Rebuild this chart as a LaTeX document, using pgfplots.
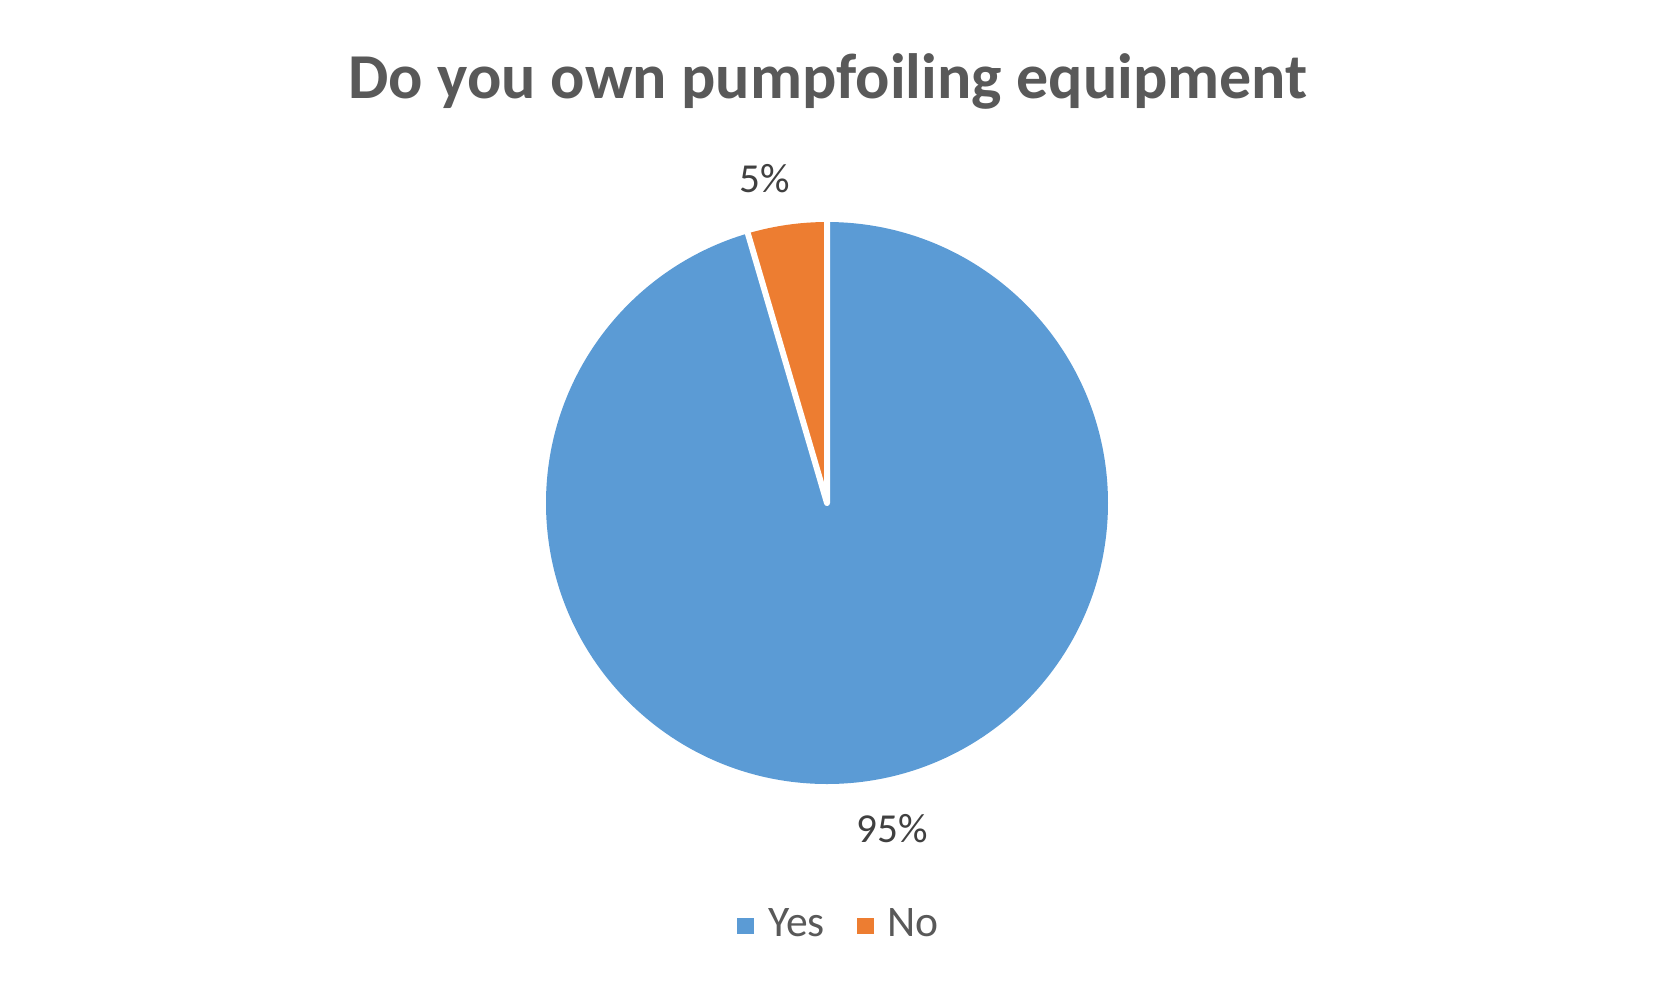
\documentclass[border=0pt]{standalone}
\usepackage{pgfplots}
\pgfplotsset{compat=1.18}
\usepackage{pgfplotstable}
\usetikzlibrary{calc}
\usepackage{fontspec}
\setmainfont{Carlito}

\definecolor{yesblue}{HTML}{5B9BD5}
\definecolor{noorange}{HTML}{ED7D31}
\definecolor{titlegray}{HTML}{595959}
\definecolor{labelgray}{HTML}{404040}

% answers (count of respondents)
\pgfplotstableread{
answer count
Yes 21
No 1
}\answers

\begin{document}
\begin{tikzpicture}
\pgfplotstablegetelem{0}{count}\of\answers \let\nyes\pgfplotsretval
\pgfplotstablegetelem{1}{count}\of\answers \let\nno\pgfplotsretval
\pgfmathsetmacro\total{\nyes+\nno}
\pgfmathsetmacro\ayes{360*\nyes/\total}
\pgfmathsetmacro\ano{360*\nno/\total}
\begin{axis}[
  width=413.5pt, height=247.5pt, scale only axis,
  xmin=0, xmax=1654, ymin=0, ymax=990,
  hide axis, clip=false,
  legend columns=2,
  legend image code/.code={\fill[#1] (0pt,-1.9pt) rectangle (3.8pt,1.9pt);
    \path (7.3pt,0pt);},
  legend style={at={(axis cs:838,64)}, anchor=center, draw=none, fill=none,
    font=\fontsize{10.9}{12}\selectfont, text=titlegray,
    nodes={inner sep=0pt},
    /tikz/every even column/.append style={column sep=8pt}},
]
\path (rel axis cs:0,0) (rel axis cs:1,1);
\addlegendimage{yesblue}
\addlegendentry{Yes}
\addlegendimage{noorange}
\addlegendentry{No}

% slices, clockwise from 12 o'clock
\fill[yesblue] (axis cs:827,487) -- ++(90:70.25pt)
  arc[start angle=90, delta angle=-\ayes, radius=70.25pt] -- cycle;
\fill[noorange] (axis cs:827,487) -- ++(90+\ano:70.25pt)
  arc[start angle=90+\ano, delta angle=-\ano, radius=70.25pt] -- cycle;
\draw[white, line width=1.5pt, line join=round, line cap=round]
  ($(axis cs:827,487)+(90:70.25pt)$) -- (axis cs:827,487) -- ++(90+\ano:70.25pt);

\node[anchor=base, text=titlegray, font=\bfseries\fontsize{16}{19}\selectfont]
  at (axis cs:828,892) {Do you own pumpfoiling equipment};
\node[anchor=base, text=labelgray, font=\fontsize{10.3}{12}\selectfont]
  at (axis cs:765,798) {5\%};
\node[anchor=base, text=labelgray, font=\fontsize{10.3}{12}\selectfont]
  at (axis cs:892,148) {95\%};
\end{axis}
\end{tikzpicture}
\end{document}
